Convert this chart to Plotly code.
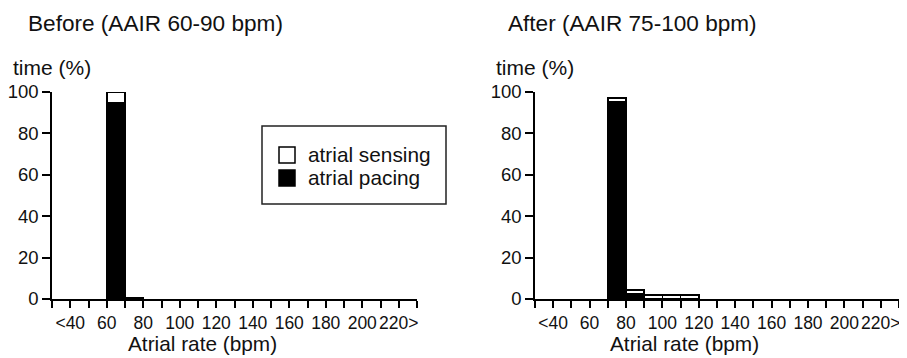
import plotly.graph_objects as go

# ---- data ----
bin_lower = [60, 70, 80, 90, 100, 110]
before_pacing = [95, 0.8, None, None, None, None]
before_sensing = [5, None, None, None, None, None]
after_pacing = [None, 95.3, 2.3, None, None, None]
after_sensing = [None, 1.7, 2.0, 2.0, 2.0, 2.0]
tick_vals = [40, 60, 80, 100, 120, 140, 160, 180, 200, 220]
tick_text = ["<40", "60", "80", "100", "120", "140", "160", "180", "200", "220>"]
y_ticks = [0, 20, 40, 60, 80, 100]
legend_names = ["atrial sensing", "atrial pacing"]
legend_colors = ["white", "black"]

# page body has an 8px margin; work in window coordinates and shift
OFF = 8
W, H = 907 - OFF, 358 - OFF
L = 52 - OFF
T = 92 - OFF
R = W - (899 - OFF)
B = H - (299 - OFF)
PW = W - L - R
PH = H - T - B


def px(x):
    return (x - OFF - L) / PW


def py(y):
    return (H - B - (y - OFF)) / PH


FONT = "Liberation Sans, Arial, sans-serif"
TXT = "#111111"

fig = go.Figure()
line = dict(color="black", width=1.5)
for xa, ya, pac, sen in [("x", "y", before_pacing, before_sensing),
                          ("x2", "y2", after_pacing, after_sensing)]:
    fig.add_trace(go.Bar(x=bin_lower, y=pac, width=10, offset=0, name=legend_names[1],
                         marker=dict(color="black", line=line), xaxis=xa, yaxis=ya,
                         showlegend=False, cliponaxis=False))
    fig.add_trace(go.Bar(x=bin_lower, y=sen, width=10, offset=0, name=legend_names[0],
                         marker=dict(color="white", line=line), xaxis=xa, yaxis=ya,
                         showlegend=False, cliponaxis=False))

xcommon = dict(range=[30, 230], tickvals=tick_vals, ticktext=tick_text, tickangle=0,
               ticks="outside", ticklen=7, tickwidth=1.5, tickcolor="black", automargin=False,
               showline=True, linecolor="black", linewidth=1.5, showgrid=False,
               zeroline=False, tickfont=dict(size=17.5, family=FONT, color=TXT),
               minor=dict(dtick=10, tick0=0, ticks="outside", ticklen=7, tickwidth=1.5,
                          tickcolor="black", showgrid=False))
ycommon = dict(range=[0, 100], tickvals=y_ticks, ticks="outside", ticklen=8, tickwidth=1.5,
               tickcolor="black", showline=True, linecolor="black", linewidth=1.5,
               automargin=False, showgrid=False, zeroline=False,
               tickfont=dict(size=18.5, family=FONT, color=TXT))

left_end = px(417)
right_start = px(535)

# legend frame and swatches (window pixel positions)
shapes = [dict(type="rect", xref="paper", yref="paper",
               x0=px(262), x1=px(446), y0=py(204), y1=py(126),
               line=dict(color="#222222", width=1.5), fillcolor="rgba(0,0,0,0)")]
legend_rows_y = [155, 178]
for i, (nm, col) in enumerate(zip(legend_names, legend_colors)):
    cy = legend_rows_y[i]
    shapes.append(dict(type="rect", xref="paper", yref="paper",
                       x0=px(279), x1=px(295), y0=py(cy + 8), y1=py(cy - 8),
                       line=dict(color="black", width=1.5), fillcolor=col))

fig.update_layout(
    template="none",
    width=W, height=H,
    margin=dict(l=L, r=R, t=T, b=B),
    paper_bgcolor="white", plot_bgcolor="white",
    barmode="stack",
    showlegend=False,
    xaxis=dict(domain=[0, left_end], anchor="y", **xcommon),
    yaxis=dict(domain=[0, 1], anchor="x", **ycommon),
    xaxis2=dict(domain=[right_start, 1], anchor="y2", **xcommon),
    yaxis2=dict(domain=[0, 1], anchor="x2", **ycommon),
    font=dict(family=FONT, color=TXT),
    shapes=shapes,
)

annots = [
    ("Before (AAIR 60-90 bpm)", 26, 23.5, "left", 22.6),
    ("After (AAIR 75-100 bpm)", 506, 23.5, "left", 22.6),
    ("time (%)", 11, 68, "left", 21),
    ("time (%)", 494, 68, "left", 21),
    ("Atrial rate (bpm)", 202, 343, "center", 20.8),
    ("Atrial rate (bpm)", 684, 343, "center", 20.8),
    (legend_names[0], 306, legend_rows_y[0] - 1, "left", 20.8),
    (legend_names[1], 306, legend_rows_y[1] - 1, "left", 20.8),
]
for text, x, y, xanc, size in annots:
    fig.add_annotation(text=text, x=px(x), y=py(y), xref="paper", yref="paper",
                       xanchor=xanc, yanchor="middle", showarrow=False,
                       font=dict(size=size, family=FONT, color=TXT))

fig.write_html("out.html")
